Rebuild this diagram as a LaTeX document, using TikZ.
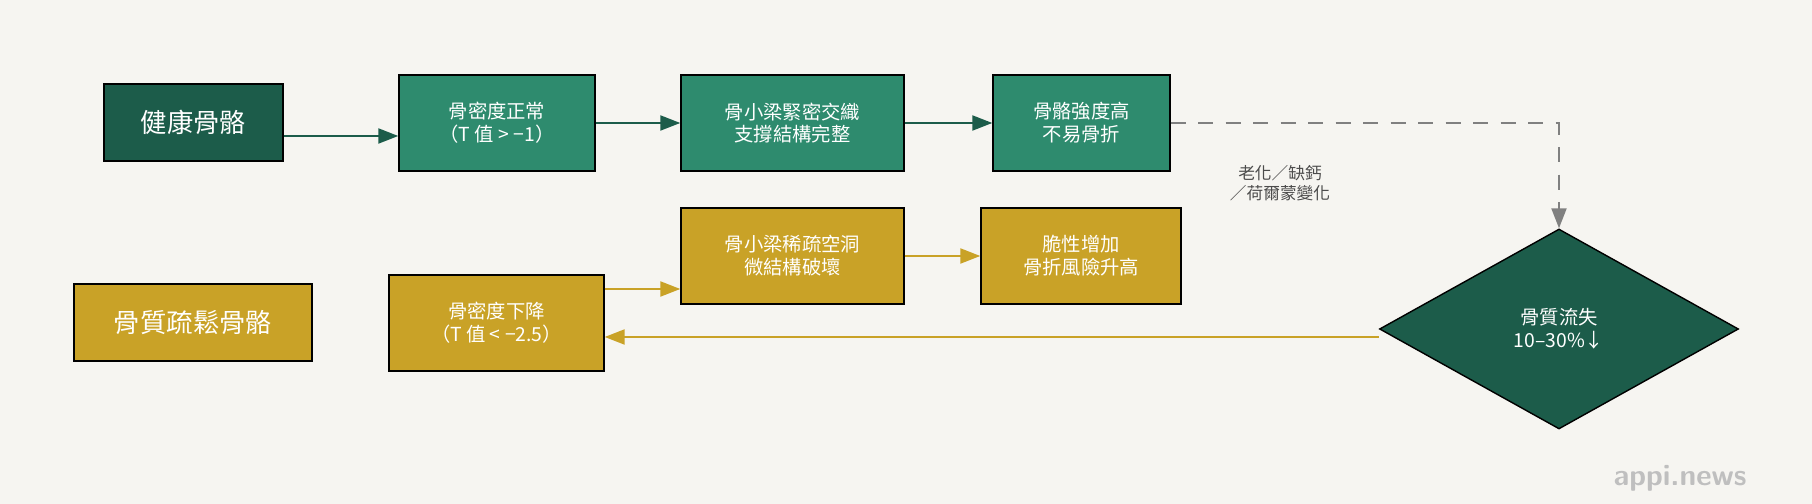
\documentclass[tikz,border=0pt]{standalone}
\usepackage{fontspec}
\setmainfont{Noto Sans CJK TC}
\usepackage{tikz}
\usetikzlibrary{shapes.geometric,arrows.meta,positioning}
\definecolor{bgc}{HTML}{F6F5F1}
\definecolor{dkgreen}{HTML}{1C5C4A}
\definecolor{mdgreen}{HTML}{2E8B6E}
\definecolor{gold}{HTML}{C9A227}
\tikzset{box/.style={rectangle,draw=black,thick,text=white,align=center,font=\fontsize{11pt}{13pt}\selectfont,minimum height=1.92cm,inner sep=2pt},
  big/.style={box,minimum height=1.54cm,font=\fontsize{15pt}{18pt}\selectfont}}
\begin{document}
\begin{tikzpicture}[>={Triangle[length=4mm,width=3mm]},line width=1.2pt]
    \fill[bgc] (0,0) rectangle (36.24,10.08);
    \useasboundingbox (0,0) rectangle (36.24,10.08);

    \node[big,fill=dkgreen,minimum width=3.58cm] (hb) at (3.87,7.63) {健康骨骼};
    \node[box,fill=mdgreen,minimum width=3.92cm] (nd) at (9.94,7.62) {骨密度正常\\（T 值 > −1）};
    \node[box,fill=mdgreen,minimum width=4.46cm] (tc) at (15.85,7.62) {骨小梁緊密交織\\支撐結構完整};
    \node[box,fill=mdgreen,minimum width=3.54cm] (st) at (21.63,7.62) {骨骼強度高\\不易骨折};
    \node[diamond,draw=black,thick,fill=dkgreen,text=white,align=center,minimum width=7.18cm,minimum height=4cm,inner sep=0pt,font=\fontsize{11pt}{13pt}\selectfont] (dm) at (31.18,3.5) {骨質流失\\10–30\%↓};
    \node[big,fill=gold,minimum width=4.76cm] (ob) at (3.86,3.63) {骨質疏鬆骨骼};
    \node[box,fill=gold,minimum width=4.3cm] (dd) at (9.93,3.62) {骨密度下降\\（T 值 < −2.5）};
    \node[box,fill=gold,minimum width=4.46cm] (sp) at (15.85,4.96) {骨小梁稀疏空洞\\微結構破壞};
    \node[box,fill=gold,minimum width=4.0cm] (br) at (21.62,4.96) {脆性增加\\骨折風險升高};
    \node[text=black!70,align=center,font=\fontsize{9.5pt}{11pt}\selectfont] (lb) at (25.6,6.42) {老化／缺鈣\\／荷爾蒙變化};
    \node[text=black!25,font=\bfseries\sffamily\fontsize{17pt}{20pt}\selectfont] (wm) at (33.6,0.52) {appi.news};

    \draw[->,dkgreen] ([yshift=-2.7mm]hb.east) -- ([yshift=-2.7mm]hb.east -| nd.west);
    \draw[->,dkgreen] (nd) -- (tc);
    \draw[->,dkgreen] (tc) -- (st);
    \draw[->,gray,dashed,dash pattern=on 3mm off 2.5mm] (st.east) -- (st.east -| dm.north) -- (dm.north);
    \draw[->,gold] ([yshift=-1.6mm]dm.west) -- ([yshift=-1.6mm]dm.west -| dd.east);
    \draw[->,gold] ([yshift=6.8mm]dd.east) -- ([yshift=6.8mm]dd.east -| sp.west);
    \draw[->,gold] (sp) -- (br);
\end{tikzpicture}
\end{document}
